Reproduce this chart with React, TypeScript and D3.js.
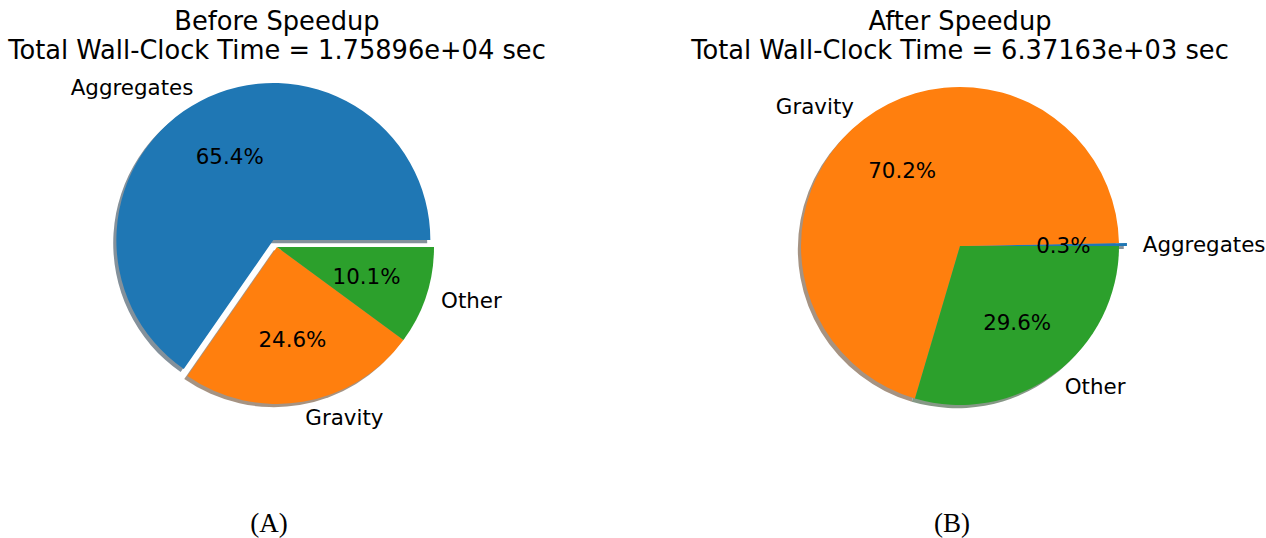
import React from "react";
import * as d3 from "d3";

const categories = ["Aggregates", "Gravity", "Other"];
const colors = ["#1f77b4", "#ff7f0e", "#2ca02c"];
const beforeValues = [65.4, 24.6, 10.1];
const afterValues = [0.3, 70.2, 29.6];
const explodes = [0.05, 0, 0];
const titles = [
  ["Before Speedup", "Total Wall-Clock Time = 1.75896e+04 sec"],
  ["After Speedup", "Total Wall-Clock Time = 6.37163e+03 sec"],
];
const captions = ["(A)", "(B)"];

const W = 1266;
const H = 538;

function shadowColor(c: string) {
  const rgb = d3.rgb(c);
  const f = (v: number) => Math.round(0.5 * 0.3 * v + 0.5 * 255);
  return d3.rgb(f(rgb.r), f(rgb.g), f(rgb.b)).toString();
}

function Pie({ values, cx, cy, r, title, caption }: any) {
  const pie = d3
    .pie<number>()
    .sort(null)
    .startAngle(Math.PI / 2)
    .endAngle(Math.PI / 2 - 2 * Math.PI)
    .value((d) => d);
  const arcs = pie(values);
  const arc = d3.arc<any>().innerRadius(0).outerRadius(r);
  const sh = 0.02 * r;
  const fs = 21.4;
  const items = arcs.map((a, i) => {
    const mid = (a.startAngle + a.endAngle) / 2;
    const ux = Math.sin(mid);
    const uy = -Math.cos(mid);
    const ex = explodes[i] * r * ux;
    const ey = explodes[i] * r * uy;
    return { a, i, ux, uy, ex, ey };
  });
  return (
    <g>
      <text x={cx} y={30} textAnchor="middle" fontSize={25.7} fontFamily="DejaVu Sans" fill="#000">
        {title[0]}
      </text>
      <text x={cx} y={59} textAnchor="middle" fontSize={25.7} fontFamily="DejaVu Sans" fill="#000">
        {title[1]}
      </text>
      <g transform={`translate(${cx},${cy})`}>
        {items.map(({ a, i, ex, ey }) => (
          <path
            key={"s" + i}
            d={arc(a) as string}
            transform={`translate(${ex - sh},${ey + sh})`}
            fill={shadowColor(colors[i])}
          />
        ))}
        {items.map(({ a, i, ex, ey }) => (
          <path key={"w" + i} d={arc(a) as string} transform={`translate(${ex},${ey})`} fill={colors[i]} />
        ))}
        {items.map(({ i, ux, uy, ex, ey }) => {
          const lx = ex + 1.1 * r * ux;
          const ly = ey + 1.1 * r * uy;
          return (
            <text
              key={"l" + i}
              x={lx}
              y={ly}
              textAnchor={lx > 0 ? "start" : "end"}
              dominantBaseline="central"
              fontSize={fs}
              fontFamily="DejaVu Sans"
              fill="#000"
            >
              {categories[i]}
            </text>
          );
        })}
        {items.map(({ i, ux, uy, ex, ey }) => (
          <text
            key={"p" + i}
            x={ex + 0.6 * r * ux}
            y={ey + 0.6 * r * uy}
            textAnchor="middle"
            dominantBaseline="central"
            fontSize={fs}
            fontFamily="DejaVu Sans"
            fill="#000"
          >
            {values[i].toFixed(1) + "%"}
          </text>
        ))}
      </g>
      <text
        x={cx - 8}
        y={523}
        textAnchor="middle"
        dominantBaseline="central"
        fontSize={27}
        fontFamily="Liberation Serif"
        fill="#000"
      >
        {caption}
      </text>
    </g>
  );
}

export default function App() {
  return (
    <svg
      width={W}
      height={H}
      style={{ position: "absolute", left: 0, top: 0, background: "#fff" }}
    >
      <rect width={W} height={H} fill="#fff" />
      <Pie values={beforeValues} cx={277} cy={247} r={157} title={titles[0]} caption={captions[0]} />
      <Pie values={afterValues} cx={960} cy={246} r={159} title={titles[1]} caption={captions[1]} />
    </svg>
  );
}
